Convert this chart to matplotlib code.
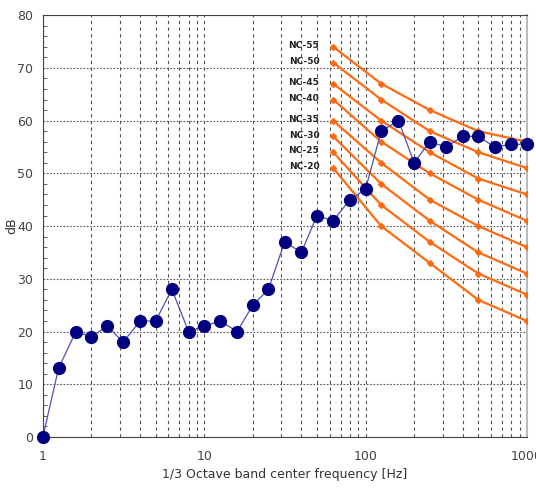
import matplotlib
matplotlib.use("Agg")
import matplotlib.pyplot as plt
from matplotlib.ticker import FixedLocator, NullFormatter, LogLocator

# 1/3 octave band centres and measured level
freq = [1, 1.25, 1.6, 2, 2.5, 3.15, 4, 5, 6.3, 8, 10, 12.5, 16, 20, 25, 31.5,
        40, 50, 63, 80, 100, 125, 160, 200, 250, 315, 400, 500, 630, 800, 1000]
level = [0, 13, 20, 19, 21, 18, 22, 22, 28, 20, 21, 22, 20, 25, 28, 37,
         35, 42, 41, 45, 47, 58, 60, 52, 56, 55, 57, 57, 55, 55.5, 55.5]

# NC curves (octave bands 63..1000 Hz)
nc_freq = [63, 125, 250, 500, 1000]
nc_names = ["NC-55", "NC-50", "NC-45", "NC-40", "NC-35", "NC-30", "NC-25", "NC-20"]
nc_levels = [
    [74, 67, 62, 58, 56],
    [71, 64, 58, 54, 51],
    [67, 60, 54, 49, 46],
    [64, 56, 50, 45, 41],
    [60, 52, 45, 40, 36],
    [57, 48, 41, 35, 31],
    [54, 44, 37, 31, 27],
    [51, 40, 33, 26, 22],
]

fig = plt.figure(figsize=(5.36, 4.88), dpi=100)
ax = fig.add_axes([0.080, 0.1045, 0.903, 0.8645])

ax.set_xscale("log")
ax.set_xlim(1, 1000)
ax.set_ylim(0, 80)

ax.xaxis.set_major_locator(FixedLocator([1, 10, 100, 1000]))
ax.xaxis.set_minor_locator(LogLocator(base=10, subs=range(2, 10)))
ax.xaxis.set_minor_formatter(NullFormatter())
ax.set_xticklabels(["1", "10", "100", "1000"])
ax.set_yticks(range(0, 81, 10))
ax.yaxis.set_minor_locator(FixedLocator(range(0, 81, 2)))

ax.grid(True, which="both", axis="x", color="#555555", linestyle=(0, (3, 3)), linewidth=0.8)
ax.grid(True, which="major", axis="y", color="#555555", linestyle=(0, (1.5, 1.5)), linewidth=0.8)
ax.tick_params(axis="both", which="both", direction="in", colors="#444444",
               labelcolor="#444444", labelsize=9)
ax.tick_params(axis="x", which="both", length=0, pad=9)
ax.tick_params(axis="y", which="major", length=0, pad=7)
ax.tick_params(axis="y", which="minor", length=3)

for side in ("left", "bottom", "top"):
    ax.spines[side].set_color("#444444")
ax.spines["right"].set_color("#bbbbbb")
ax.spines["right"].set_linewidth(1.5)

for name, lv in zip(nc_names, nc_levels):
    ax.plot(nc_freq, lv, color="#ff6a10", linewidth=1.6, marker="D",
            markersize=3, zorder=3)
    ax.annotate(name, xy=(nc_freq[0], lv[0]), xytext=(-10, 1),
                textcoords="offset points", ha="right", va="center",
                fontsize=6.5, fontweight="bold", color="#222222")

ax.plot(freq, level, color="#5050b0", linewidth=0.9, marker="o",
        markersize=8.5, markerfacecolor="#000080", markeredgecolor="#000080",
        zorder=4, clip_on=False)

ax.set_xlabel("1/3 Octave band center frequency [Hz]", fontsize=9, color="#333333")
ax.set_ylabel("dB", fontsize=9, color="#333333")
ax.yaxis.set_label_coords(-0.05, 0.5)

fig.savefig("out.png")
